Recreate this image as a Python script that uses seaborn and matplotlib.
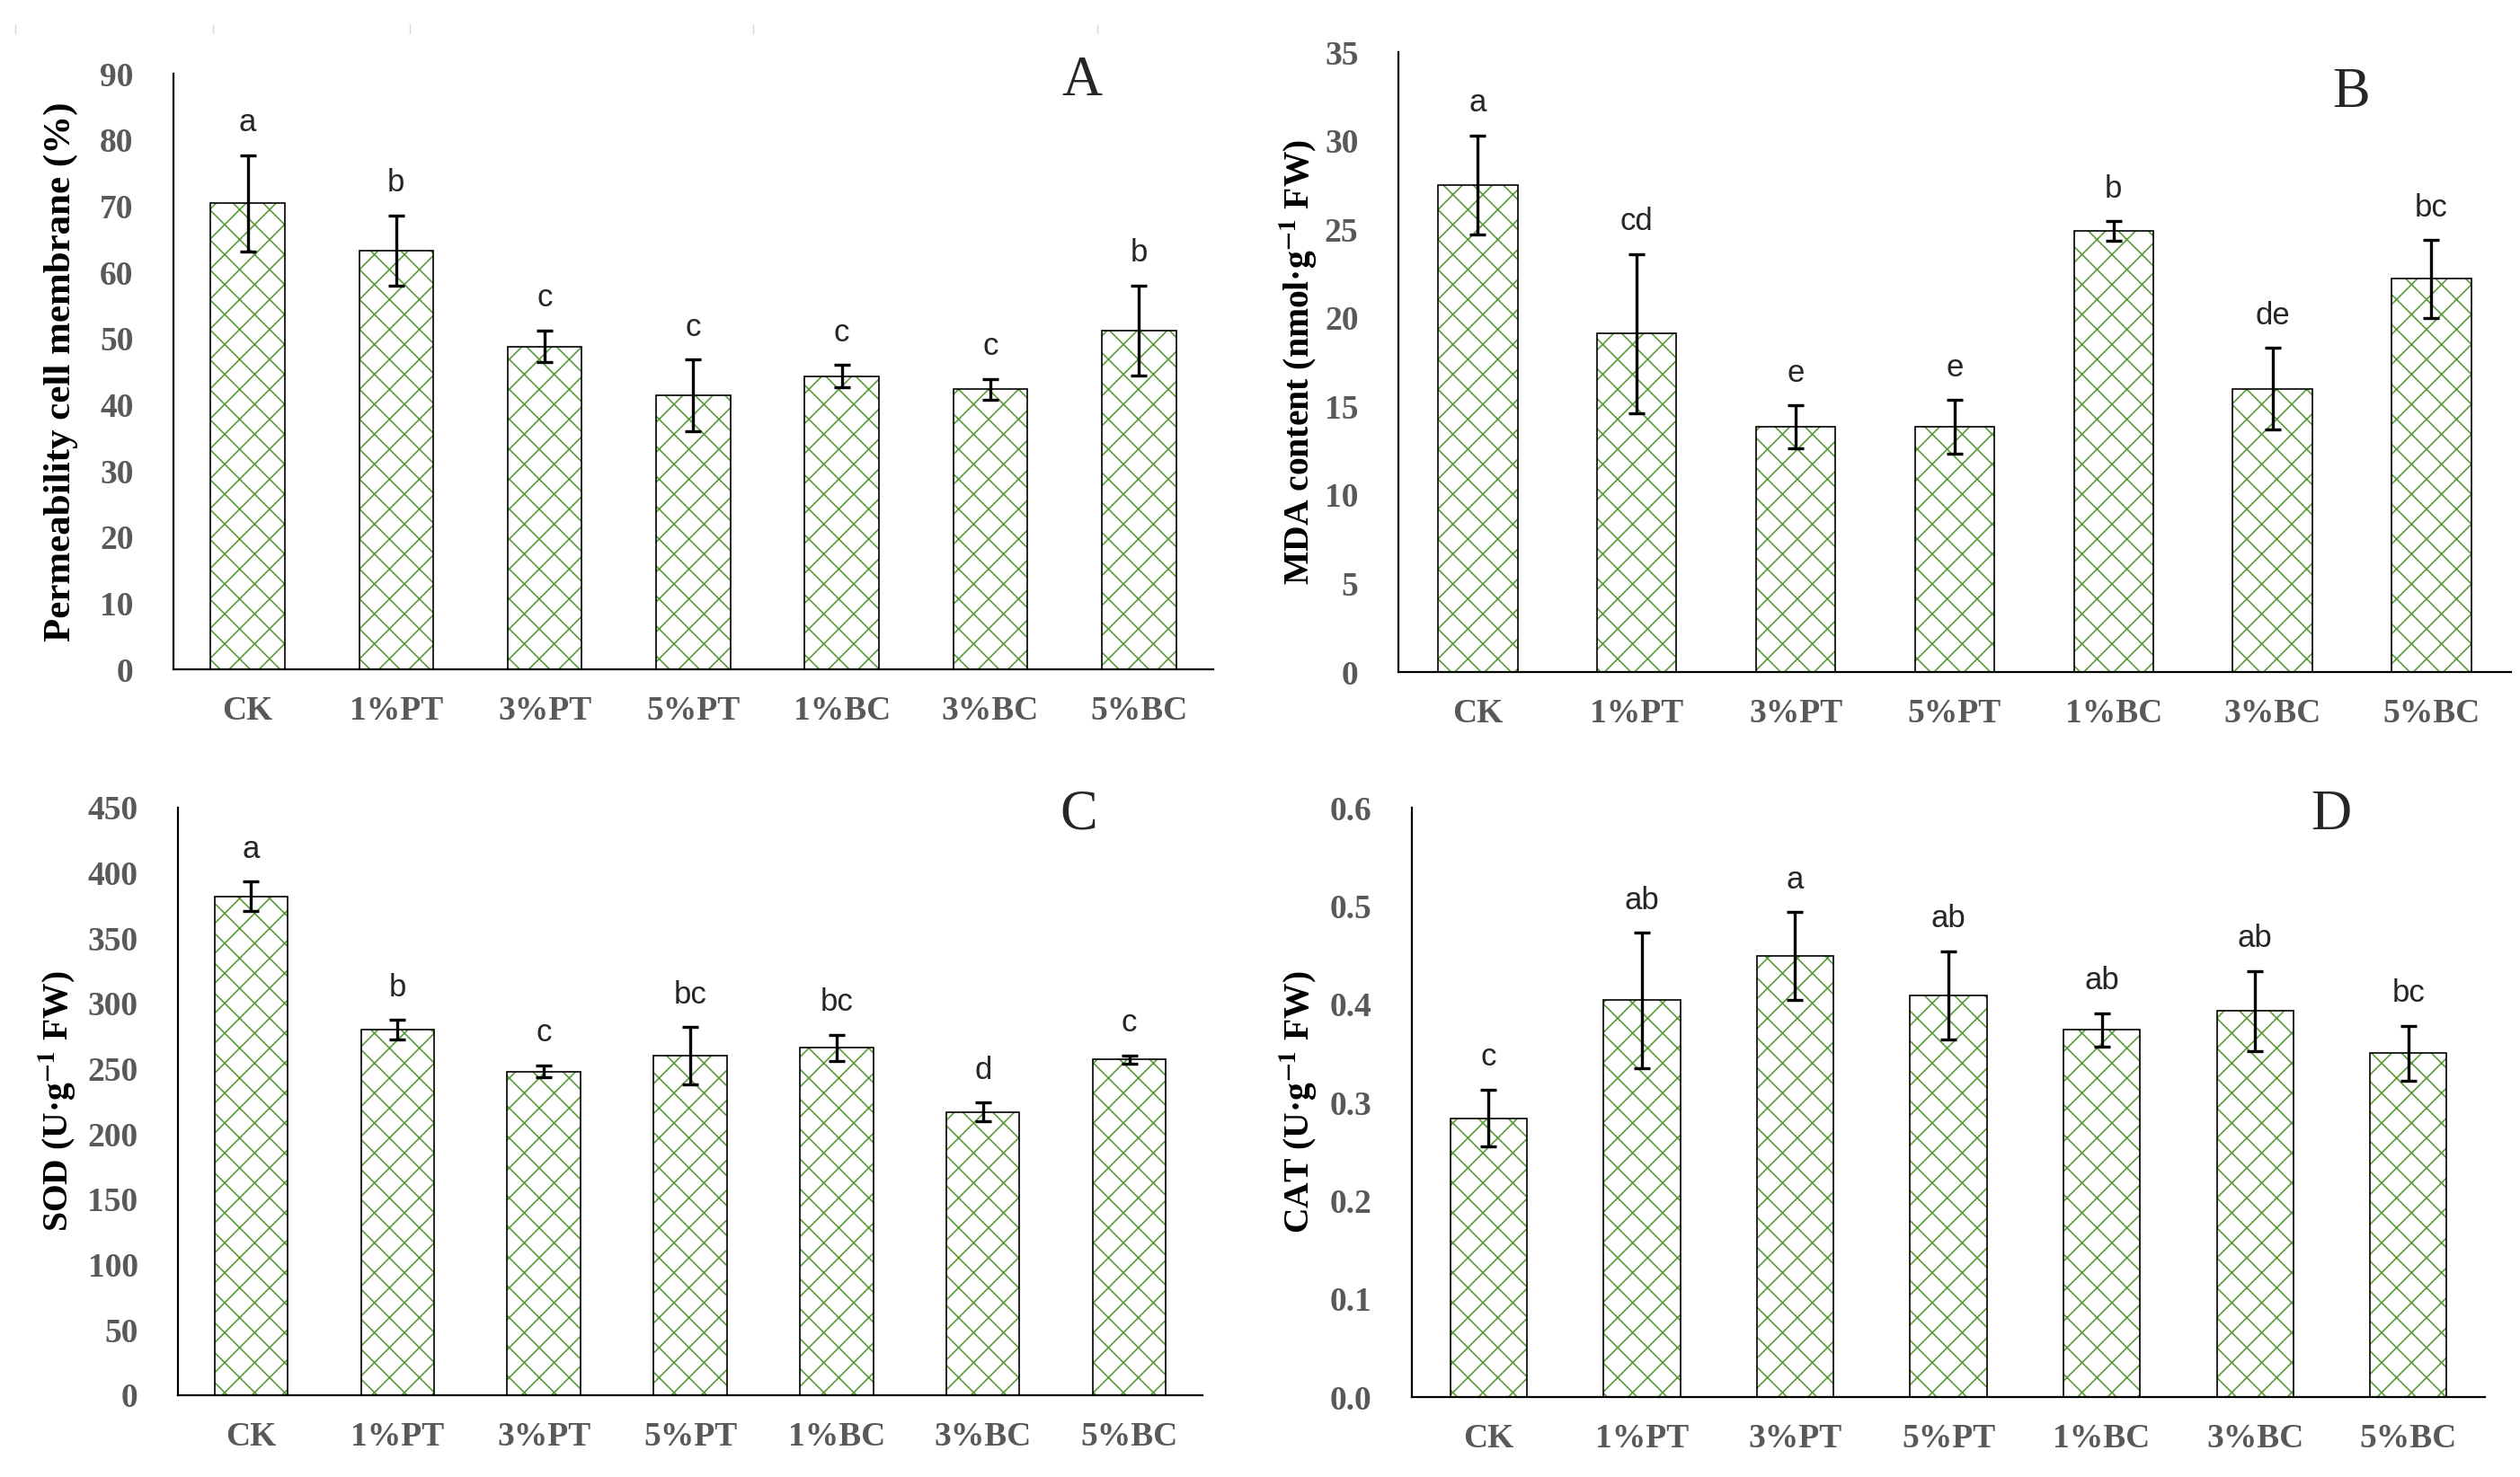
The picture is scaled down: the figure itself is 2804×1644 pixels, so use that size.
import matplotlib
matplotlib.use("Agg")
import matplotlib.pyplot as plt
import matplotlib.patches as mpatches
import pandas as pd
import seaborn as sns

# treatments
categories = ["CK", "1%PT", "3%PT", "5%PT", "1%BC", "3%BC", "5%BC"]

# A: permeability of cell membrane (%)
perm_mean = [70.4, 63.3, 48.8, 41.4, 44.3, 42.3, 51.2]
perm_err = [7.3, 5.3, 2.4, 5.4, 1.7, 1.6, 6.8]
perm_sig = ["a", "b", "c", "c", "c", "c", "b"]

# B: MDA content
mda_mean = [27.5, 19.1, 13.85, 13.85, 24.9, 16.0, 22.2]
mda_err = [2.8, 4.5, 1.2, 1.5, 0.55, 2.3, 2.2]
mda_sig = ["a", "cd", "e", "e", "b", "de", "bc"]

# C: SOD
sod_mean = [382.0, 280.0, 248.0, 260.0, 266.0, 217.0, 257.0]
sod_err = [11.3, 7.3, 4.7, 22.0, 10.2, 7.3, 3.3]
sod_sig = ["a", "b", "c", "bc", "bc", "d", "c"]

# D: CAT
cat_mean = [0.284, 0.404, 0.449, 0.409, 0.374, 0.393, 0.350]
cat_err = [0.029, 0.069, 0.045, 0.045, 0.017, 0.041, 0.028]
cat_sig = ["c", "ab", "a", "ab", "ab", "ab", "bc"]

SERIF = ["Liberation Serif", "DejaVu Serif"]
NARROW = ["Liberation Sans Narrow", "Liberation Sans", "DejaVu Sans"]
GREEN = "#5b9b3a"
GREY = "#595959"

sns.set_style("white")
plt.rcParams["font.family"] = SERIF
plt.rcParams["mathtext.fontset"] = "stix"
plt.rcParams["hatch.linewidth"] = 1.2


def draw_panel(ax, means, errs, sigs, ylim, yticks, fmt, ylabel, label_x, label_size):
    df = pd.DataFrame({"treatment": categories, "value": means})
    sns.barplot(data=df, x="treatment", y="value", order=categories,
                width=0.5, color="white", errorbar=None, ax=ax)
    # green hatch with black outline drawn on top
    for p in list(ax.patches):
        p.set_facecolor("white")
        p.set_edgecolor(GREEN)
        p.set_hatch("x")
        p.set_linewidth(0)
        ax.add_patch(mpatches.Rectangle(p.get_xy(), p.get_width(), p.get_height(),
                                        fill=False, edgecolor="black",
                                        linewidth=1.2, zorder=3))
    xs = list(range(len(categories)))
    ax.errorbar(xs, means, yerr=errs, fmt="none", ecolor="black",
                elinewidth=2.4, capsize=6.5, capthick=2.4, zorder=4)
    for x, m, e, s in zip(xs, means, errs, sigs):
        ax.annotate(s, (x, m + e), xytext=(0, 14), textcoords="offset points",
                    ha="center", va="bottom", fontsize=25, family=NARROW)

    ax.set_xlim(-0.5, len(categories) - 0.5)
    ax.set_ylim(*ylim)
    ax.set_yticks(yticks)
    ax.set_yticklabels([fmt.format(v) for v in yticks])
    ax.set_xticks(xs)
    ax.set_xticklabels(categories)
    ax.set_xticks([i - 0.5 for i in range(len(categories) + 1)], minor=True)
    ax.tick_params(axis="x", which="major", length=0, pad=21)
    ax.tick_params(axis="x", which="minor", length=9, width=1.3,
                   direction="out", color="black")
    ax.tick_params(axis="y", length=8, width=1.3, direction="out",
                   color="black", pad=24)
    for lab in ax.get_xticklabels() + ax.get_yticklabels():
        lab.set_fontsize(27)
        lab.set_fontweight("bold")
        lab.set_color(GREY)
        lab.set_family(SERIF)
    sns.despine(ax=ax)
    for side in ("left", "bottom"):
        ax.spines[side].set_linewidth(1.6)
        ax.spines[side].set_color("black")
    ax.set_xlabel("")
    ax.set_ylabel(ylabel, fontsize=label_size, fontweight="bold", family=SERIF,
                  color="black", va="center")
    ax.yaxis.set_label_coords(label_x, 0.5)


fig = plt.figure(figsize=(28.04, 16.44), dpi=100)
ax_a = fig.add_axes([0.0688, 0.5468, 0.4126, 0.4033])
ax_b = fig.add_axes([0.5549, 0.5450, 0.4415, 0.4197])
ax_c = fig.add_axes([0.0706, 0.0554, 0.4066, 0.3978])
ax_d = fig.add_axes([0.5603, 0.0541, 0.4258, 0.3990])

draw_panel(ax_a, perm_mean, perm_err, perm_sig, (0, 90), list(range(0, 91, 10)),
           "{:d}", "Permeability cell membrane (%)", -0.108, 31)
draw_panel(ax_b, mda_mean, mda_err, mda_sig, (0, 35), list(range(0, 36, 5)),
           "{:d}", r"MDA content (nmol·g$^{\mathbf{-1}}$ FW)", -0.090, 28.5)
draw_panel(ax_c, sod_mean, sod_err, sod_sig, (0, 450), list(range(0, 451, 50)),
           "{:d}", r"SOD (U·g$^{\mathbf{-1}}$ FW)", -0.118, 28.5)
draw_panel(ax_d, cat_mean, cat_err, cat_sig, (0, 0.6),
           [0.0, 0.1, 0.2, 0.3, 0.4, 0.5, 0.6],
           "{:.1f}", r"CAT (U·g$^{\mathbf{-1}}$ FW)", -0.1055, 28.5)

# panel letters
for txt, x, y in [("A", 0.4294, 0.9446), ("B", 0.933, 0.937),
                  ("C", 0.428, 0.4477), ("D", 0.925, 0.4477)]:
    fig.text(x, y, txt, fontsize=45, family=SERIF, ha="center", va="center")

# faint marks left over at the top edge
for xpix in [17, 237, 456, 838, 1221]:
    fig.add_artist(plt.Line2D([xpix / 2804] * 2, [1 - 27 / 1644, 1 - 37 / 1644],
                              color="#d9d9d9", linewidth=1.0))

fig.savefig("out.png", dpi=100, facecolor="white")
